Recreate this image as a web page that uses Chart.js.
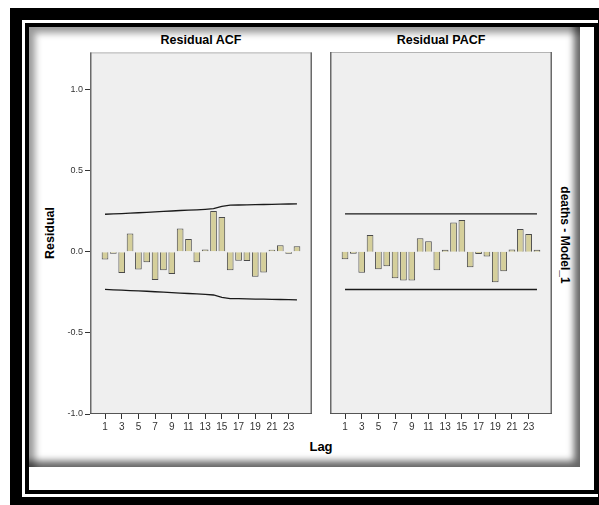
<!DOCTYPE html>
<html>
<head>
<meta charset="utf-8">
<script src="https://cdn.jsdelivr.net/npm/chart.js@4.4.0/dist/chart.umd.min.js"></script>
<style>
  html, body { margin: 0; padding: 0; background: #fff; width: 599px; height: 505px; overflow: hidden; position: relative; font-family: "Liberation Sans", Arial, sans-serif; }
  .outer { position: absolute; left: 10px; top: 8px; width: 600px; height: 501px; border: 12px solid #000; box-sizing: border-box; }
  .inner { position: absolute; left: 25px; top: 23px; width: 573px; height: 471px; border: 4px solid #000; box-sizing: border-box; background: #fff; }
  .panel { position: absolute; left: 29px; top: 27px; width: 551px; height: 440px; background: #fff;
           box-shadow: inset 9px 9px 7px -3px rgba(0,0,0,0.4), inset -9px -9px 7px -3px rgba(0,0,0,0.6); }
  .lbl { position: absolute; font-weight: bold; color: #000; white-space: nowrap; }
  canvas { position: absolute; }
</style>
</head>
<body>
<div class="outer"></div>
<div class="inner"></div>
<div class="panel"></div>

<div class="lbl" style="left:101px; top:33px; width:200px; text-align:center; font-size:12.5px;">Residual ACF</div>
<div class="lbl" style="left:341px; top:33px; width:200px; text-align:center; font-size:12.5px;">Residual PACF</div>
<div class="lbl" style="left:50px; top:233px; font-size:12.5px; transform: translate(-50%,-50%) rotate(-90deg);">Residual</div>
<div class="lbl" style="left:565px; top:235px; font-size:12px; transform: translate(-50%,-50%) rotate(90deg);">deaths - Model_1</div>
<div class="lbl" style="left:271px; top:439px; width:100px; text-align:center; font-size:13px;">Lag</div>

<canvas id="acfChart" width="290" height="400" style="left:30px; top:45px; width:290px; height:400px;"></canvas>
<canvas id="pacfChart" width="260" height="400" style="left:320px; top:45px; width:260px; height:400px;"></canvas>

<script>
const lags = [1, 2, 3, 4, 5, 6, 7, 8, 9, 10, 11, 12, 13, 14, 15, 16, 17, 18, 19, 20, 21, 22, 23, 24];
const lagTicks = [1, 3, 5, 7, 9, 11, 13, 15, 17, 19, 21, 23];
const residualTicks = [-1.0, -0.5, 0.0, 0.5, 1.0];

const acfValues = [-0.047, -0.008, -0.130, 0.113, -0.109, -0.064, -0.174, -0.113, -0.137, 0.144, 0.080, -0.064,
                   0.014, 0.252, 0.215, -0.113, -0.055, -0.057, -0.154, -0.127, 0.005, 0.041, -0.005, 0.035];
const acfUpper = [0.232, 0.234, 0.236, 0.239, 0.241, 0.243, 0.246, 0.249, 0.252, 0.255, 0.257, 0.259,
                  0.262, 0.266, 0.281, 0.288, 0.289, 0.290, 0.291, 0.292, 0.293, 0.294, 0.295, 0.296];
const acfLower = [-0.232, -0.234, -0.236, -0.239, -0.241, -0.243, -0.246, -0.249, -0.252, -0.255, -0.257, -0.259,
                  -0.262, -0.266, -0.281, -0.288, -0.289, -0.290, -0.291, -0.292, -0.293, -0.294, -0.295, -0.296];

const pacfValues = [-0.047, -0.010, -0.130, 0.103, -0.109, -0.090, -0.164, -0.178, -0.178, 0.082, 0.064, -0.115,
                    0.003, 0.180, 0.195, -0.096, -0.014, -0.029, -0.189, -0.121, 0.014, 0.139, 0.109, 0.003];
const pacfUpper = [0.233, 0.233, 0.233, 0.233, 0.233, 0.233, 0.233, 0.233, 0.233, 0.233, 0.233, 0.233,
                   0.233, 0.233, 0.233, 0.233, 0.233, 0.233, 0.233, 0.233, 0.233, 0.233, 0.233, 0.233];
const pacfLower = [-0.233, -0.233, -0.233, -0.233, -0.233, -0.233, -0.233, -0.233, -0.233, -0.233, -0.233, -0.233,
                   -0.233, -0.233, -0.233, -0.233, -0.233, -0.233, -0.233, -0.233, -0.233, -0.233, -0.233, -0.233];

const barFill = '#d5cf9b';
const barEdge = '#4a4a4a';

const toXY = (arr) => arr.map((v, i) => ({ x: lags[i], y: v }));

// light grey plot box with darker edges, like the SPSS output
const boxPlugin = {
  id: 'box',
  beforeDraw(chart) {
    const { ctx, chartArea: a } = chart;
    ctx.save();
    ctx.fillStyle = '#efefef';
    ctx.fillRect(a.left, a.top, a.right - a.left, a.bottom - a.top);
    ctx.restore();
  },
  afterDraw(chart) {
    const { ctx, chartArea: a } = chart;
    ctx.save();
    ctx.strokeStyle = '#b4b4b4';
    ctx.lineWidth = 1;
    ctx.strokeRect(a.left + 0.5, a.top + 0.5, a.right - a.left - 1, a.bottom - a.top - 1);
    ctx.strokeStyle = '#6a6a6a';
    ctx.lineWidth = 1.5;
    ctx.beginPath();
    ctx.moveTo(a.left + 0.75, a.top); ctx.lineTo(a.left + 0.75, a.bottom);
    ctx.moveTo(a.right - 0.75, a.top); ctx.lineTo(a.right - 0.75, a.bottom);
    ctx.stroke();
    ctx.strokeStyle = '#555';
    ctx.lineWidth = 1;
    ctx.beginPath();
    ctx.moveTo(a.left, a.bottom - 0.5); ctx.lineTo(a.right, a.bottom - 0.5);
    ctx.stroke();
    ctx.restore();
  }
};

function makeChart(id, values, upper, lower, showY, padLeft, padRight) {
  return new Chart(document.getElementById(id), {
    type: 'bar',
    data: {
      datasets: [
        {
          type: 'line', data: toXY(upper), borderColor: '#1a1a1a', borderWidth: 1.3,
          pointRadius: 0, fill: false, tension: 0
        },
        {
          type: 'line', data: toXY(lower), borderColor: '#1a1a1a', borderWidth: 1.3,
          pointRadius: 0, fill: false, tension: 0
        },
        {
          type: 'bar', data: toXY(values), backgroundColor: barFill, borderColor: barEdge,
          borderWidth: 1, barPercentage: 0.8, categoryPercentage: 1, minBarLength: 2
        }
      ]
    },
    options: {
      responsive: false,
      animation: false,
      layout: { padding: { left: padLeft, right: padRight, top: 7, bottom: 0 } },
      plugins: { legend: { display: false }, tooltip: { enabled: false }, title: { display: false } },
      scales: {
        x: {
          type: 'linear', min: -0.8, max: 25.8, offset: false,
          afterBuildTicks: (s) => { s.ticks = lagTicks.map(v => ({ value: v })); },
          afterFit: (s) => { s.height = 31; },
          grid: { offset: false, drawOnChartArea: false, drawTicks: true, tickLength: 5, tickColor: '#333' },
          border: { display: false },
          ticks: { color: '#333', font: { family: 'Liberation Sans', size: 10 }, padding: 2, maxRotation: 0, autoSkip: false }
        },
        y: {
          display: showY,
          min: -1.0, max: 1.23,
          afterBuildTicks: (s) => { s.ticks = residualTicks.map(v => ({ value: v })); },
          afterFit: (s) => { s.width = showY ? 60 : 0; },
          grid: { drawOnChartArea: false, drawTicks: true, tickLength: 5, tickColor: '#333' },
          border: { display: false },
          ticks: { color: '#333', font: { family: 'Liberation Sans', size: 9 }, padding: 2,
                   callback: (v) => v.toFixed(1) }
        }
      }
    },
    plugins: [boxPlugin]
  });
}

makeChart('acfChart', acfValues, acfUpper, acfLower, true, 0, 8);
makeChart('pacfChart', pacfValues, pacfUpper, pacfLower, false, 10, 28);
</script>
</body>
</html>
